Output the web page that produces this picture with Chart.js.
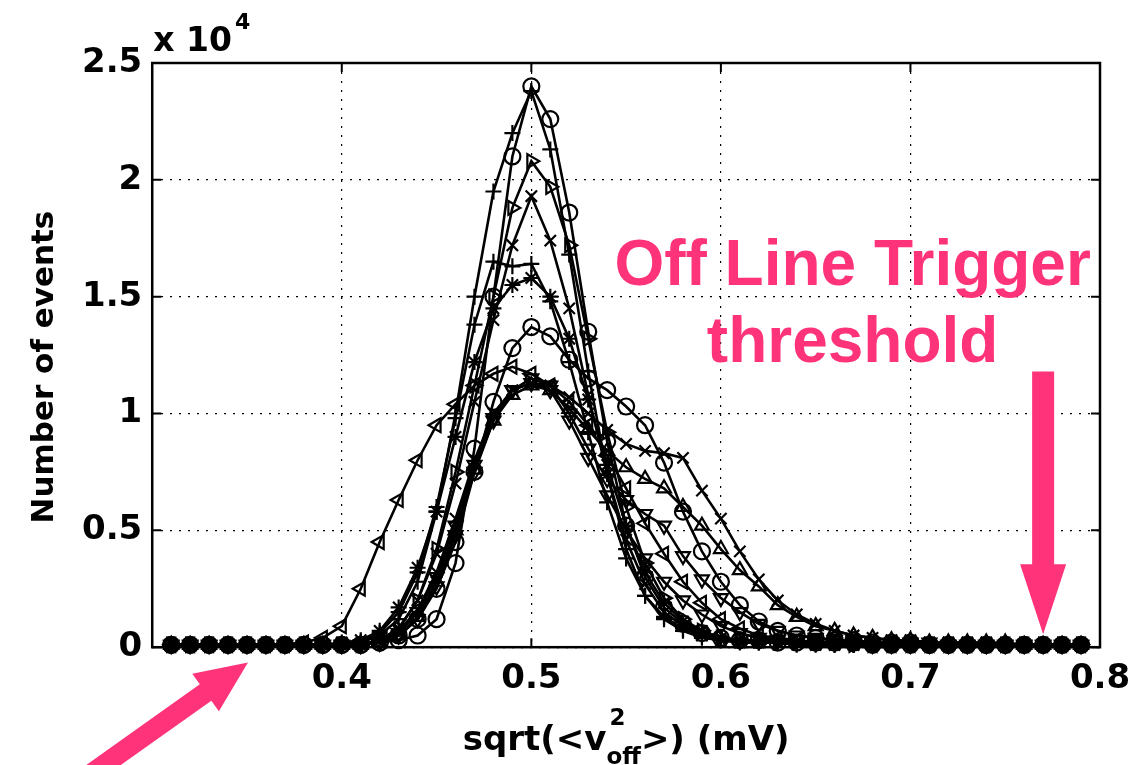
<!DOCTYPE html>
<html>
<head>
<meta charset="utf-8">
<script src="https://cdn.jsdelivr.net/npm/chart.js@4.4.1/dist/chart.umd.min.js"></script>
<style>
  html, body { margin: 0; padding: 0; background: #fff; }
  #wrap { width: 1143px; height: 765px; position: relative; }
</style>
</head>
<body>
<div id="wrap"><canvas id="events"></canvas></div>
<script>
// bin centres, sqrt(<v_off^2>) in mV
var xValues = [0.31, 0.32, 0.33, 0.34, 0.35, 0.36, 0.37, 0.38, 0.39, 0.40,
               0.41, 0.42, 0.43, 0.44, 0.45, 0.46, 0.47, 0.48, 0.49, 0.50,
               0.51, 0.52, 0.53, 0.54, 0.55, 0.56, 0.57, 0.58, 0.59, 0.60,
               0.61, 0.62, 0.63, 0.64, 0.65, 0.66, 0.67, 0.68, 0.69, 0.70,
               0.71, 0.72, 0.73, 0.74, 0.75, 0.76, 0.77, 0.78, 0.79];

// number of events, in units of 10^4
var circTall = [0.01, 0.01, 0.01, 0.01, 0.01, 0.01, 0.01, 0.01, 0.01, 0.01,
                0.01, 0.02, 0.03, 0.05, 0.12, 0.36, 0.85, 1.5, 2.1, 2.4,
                2.26, 1.86, 1.35, 0.88, 0.52, 0.3, 0.17, 0.1, 0.06, 0.04,
                0.03, 0.03, 0.02, 0.02, 0.02, 0.02, 0.02, 0.01, 0.01, 0.01,
                0.01, 0.01, 0.01, 0.01, 0.01, 0.01, 0.01, 0.01, 0.01];
var plusTall = [0.01, 0.01, 0.01, 0.01, 0.01, 0.01, 0.01, 0.01, 0.01, 0.01,
                0.02, 0.05, 0.12, 0.28, 0.58, 1.0, 1.5, 1.95, 2.2, 2.38,
                2.13, 1.68, 1.18, 0.74, 0.42, 0.22, 0.12, 0.07, 0.04, 0.03,
                0.02, 0.02, 0.02, 0.01, 0.01, 0.01, 0.01, 0.01, 0.01, 0.01,
                0.01, 0.01, 0.01, 0.01, 0.01, 0.01, 0.01, 0.01, 0.01];
var triRight = [0.01, 0.01, 0.01, 0.01, 0.01, 0.01, 0.01, 0.01, 0.01, 0.01,
                0.01, 0.03, 0.08, 0.2, 0.42, 0.75, 1.12, 1.5, 1.88, 2.08,
                1.97, 1.72, 1.32, 0.92, 0.6, 0.36, 0.21, 0.12, 0.07, 0.04,
                0.03, 0.03, 0.02, 0.02, 0.02, 0.02, 0.01, 0.01, 0.01, 0.01,
                0.01, 0.01, 0.01, 0.01, 0.01, 0.01, 0.01, 0.01, 0.01];
var crossTall = [0.01, 0.01, 0.01, 0.01, 0.01, 0.01, 0.01, 0.01, 0.01, 0.01,
                 0.01, 0.03, 0.08, 0.2, 0.4, 0.7, 1.05, 1.4, 1.72, 1.93,
                 1.74, 1.45, 1.08, 0.74, 0.46, 0.27, 0.15, 0.09, 0.05, 0.03,
                 0.02, 0.02, 0.02, 0.02, 0.01, 0.01, 0.01, 0.01, 0.01, 0.01,
                 0.01, 0.01, 0.01, 0.01, 0.01, 0.01, 0.01, 0.01, 0.01];
var plusMid = [0.01, 0.01, 0.01, 0.01, 0.01, 0.01, 0.01, 0.01, 0.01, 0.01,
               0.02, 0.06, 0.15, 0.32, 0.6, 0.98, 1.38, 1.65, 1.63, 1.64,
               1.48, 1.22, 0.92, 0.62, 0.38, 0.22, 0.13, 0.08, 0.05, 0.03,
               0.03, 0.02, 0.02, 0.02, 0.02, 0.01, 0.01, 0.01, 0.01, 0.01,
               0.01, 0.01, 0.01, 0.01, 0.01, 0.01, 0.01, 0.01, 0.01];
var starMid = [0.01, 0.01, 0.01, 0.01, 0.01, 0.01, 0.01, 0.01, 0.01, 0.02,
               0.03, 0.07, 0.17, 0.34, 0.58, 0.9, 1.22, 1.45, 1.55, 1.58,
               1.5, 1.32, 1.06, 0.78, 0.52, 0.32, 0.19, 0.11, 0.07, 0.04,
               0.03, 0.03, 0.02, 0.02, 0.02, 0.02, 0.01, 0.01, 0.01, 0.01,
               0.01, 0.01, 0.01, 0.01, 0.01, 0.01, 0.01, 0.01, 0.01];
var circWide = [0.01, 0.01, 0.01, 0.01, 0.01, 0.01, 0.01, 0.01, 0.01, 0.01,
                0.01, 0.02, 0.05, 0.12, 0.25, 0.45, 0.75, 1.05, 1.28, 1.37,
                1.33, 1.23, 1.15, 1.1, 1.03, 0.95, 0.79, 0.58, 0.41, 0.28,
                0.18, 0.11, 0.07, 0.05, 0.04, 0.03, 0.03, 0.02, 0.02, 0.02,
                0.01, 0.01, 0.01, 0.01, 0.01, 0.01, 0.01, 0.01, 0.01];
var triLeft = [0.01, 0.01, 0.01, 0.01, 0.01, 0.01, 0.01, 0.02, 0.04, 0.09,
               0.25, 0.45, 0.63, 0.8, 0.95, 1.04, 1.12, 1.17, 1.2, 1.17,
               1.12, 1.05, 0.95, 0.82, 0.68, 0.53, 0.4, 0.28, 0.19, 0.12,
               0.08, 0.05, 0.04, 0.03, 0.02, 0.02, 0.02, 0.01, 0.01, 0.01,
               0.01, 0.01, 0.01, 0.01, 0.01, 0.01, 0.01, 0.01, 0.01];
var triDown = [0.01, 0.01, 0.01, 0.01, 0.01, 0.01, 0.01, 0.01, 0.01, 0.01,
               0.01, 0.02, 0.06, 0.15, 0.3, 0.52, 0.78, 0.98, 1.1, 1.13,
               1.1, 0.97, 0.81, 0.65, 0.5, 0.38, 0.28, 0.2, 0.14, 0.09,
               0.06, 0.04, 0.03, 0.03, 0.02, 0.02, 0.02, 0.01, 0.01, 0.01,
               0.01, 0.01, 0.01, 0.01, 0.01, 0.01, 0.01, 0.01, 0.01];
var crossWide = [0.01, 0.01, 0.01, 0.01, 0.01, 0.01, 0.01, 0.01, 0.01, 0.01,
                 0.01, 0.03, 0.07, 0.16, 0.32, 0.55, 0.8, 1.0, 1.1, 1.13,
                 1.12, 1.07, 1.0, 0.93, 0.87, 0.84, 0.83, 0.81, 0.67, 0.55,
                 0.41, 0.29, 0.2, 0.14, 0.1, 0.07, 0.05, 0.04, 0.03, 0.03,
                 0.02, 0.02, 0.02, 0.02, 0.01, 0.01, 0.01, 0.01, 0.01];
var triUp = [0.01, 0.01, 0.01, 0.01, 0.01, 0.01, 0.01, 0.01, 0.01, 0.01,
             0.01, 0.02, 0.05, 0.13, 0.28, 0.5, 0.76, 0.97, 1.08, 1.12,
             1.1, 1.02, 0.93, 0.84, 0.77, 0.72, 0.68, 0.6, 0.52, 0.42,
             0.33, 0.26, 0.18, 0.13, 0.09, 0.07, 0.05, 0.04, 0.03, 0.03,
             0.02, 0.02, 0.02, 0.02, 0.02, 0.01, 0.01, 0.01, 0.01];
var triDown2 = [0.01, 0.01, 0.01, 0.01, 0.01, 0.01, 0.01, 0.01, 0.01, 0.01,
                0.01, 0.02, 0.05, 0.12, 0.26, 0.48, 0.75, 0.97, 1.1, 1.15,
                1.12, 1.0, 0.85, 0.72, 0.63, 0.57, 0.52, 0.39, 0.29, 0.21,
                0.15, 0.1, 0.07, 0.05, 0.04, 0.03, 0.03, 0.02, 0.02, 0.02,
                0.02, 0.01, 0.01, 0.01, 0.01, 0.01, 0.01, 0.01, 0.01];

var xTicks = [0.4, 0.5, 0.6, 0.7, 0.8];
var xTickLabels = ['0.4', '0.5', '0.6', '0.7', '0.8'];
var yTicks = [0, 0.5, 1, 1.5, 2, 2.5];
var yTickLabels = ['0', '0.5', '1', '1.5', '2', '2.5'];

// marker per series: [data, pointStyle, rotation]
var seriesList = [
    [triLeft, 'triangle', -90],
    [triDown2, 'triangle', 180],
    [triUp, 'triangle', 0],
    [crossWide, 'crossRot', 0],
    [triDown, 'triangle', 180],
    [circWide, 'circle', 0],
    [starMid, 'star', 0],
    [plusMid, 'cross', 0],
    [crossTall, 'crossRot', 0],
    [triRight, 'triangle', 90],
    [plusTall, 'cross', 0],
    [circTall, 'circle', 0]
];

var pink = '#ff3379';
var tickFont = '"DejaVu Sans", sans-serif';

var datasets = seriesList.map(function (s) {
    return {
        data: s[0].map(function (v, i) { return { x: xValues[i], y: v }; }),
        borderColor: '#000',
        borderWidth: 2.6,
        pointStyle: s[1],
        rotation: s[2],
        pointRadius: 8,
        pointBorderWidth: 2.2,
        pointBorderColor: '#000',
        pointBackgroundColor: 'rgba(0,0,0,0)',
        tension: 0,
        clip: 10
    };
});

var overlay = {
    id: 'overlay',
    afterDatasetsDraw: function (chart) {
        var ctx = chart.ctx, a = chart.chartArea;
        var xs = chart.scales.x, ys = chart.scales.y;
        ctx.save();
        ctx.strokeStyle = '#000';
        ctx.lineWidth = 2.5;
        ctx.strokeRect(a.left, a.top, a.right - a.left, a.bottom - a.top);
        ctx.lineWidth = 2;
        ctx.beginPath();
        xTicks.forEach(function (v) {
            var p = xs.getPixelForValue(v);
            ctx.moveTo(p, a.bottom); ctx.lineTo(p, a.bottom - 9);
            ctx.moveTo(p, a.top); ctx.lineTo(p, a.top + 9);
        });
        yTicks.forEach(function (v) {
            var p = ys.getPixelForValue(v);
            ctx.moveTo(a.left, p); ctx.lineTo(a.left + 9, p);
            ctx.moveTo(a.right, p); ctx.lineTo(a.right - 9, p);
        });
        ctx.stroke();
        ctx.restore();
    },
    afterDraw: function (chart) {
        var ctx = chart.ctx, a = chart.chartArea;
        var xs = chart.scales.x, ys = chart.scales.y;
        ctx.save();
        ctx.fillStyle = '#000';
        ctx.textAlign = 'left';
        ctx.textBaseline = 'alphabetic';

        // exponent label
        ctx.font = 'bold 33px ' + tickFont;
        ctx.fillText('x 10', a.left + 1, 51);
        var w = ctx.measureText('x 10').width;
        ctx.font = 'bold 22px ' + tickFont;
        ctx.fillText('4', a.left + 4 + w, 29);

        // x axis title with superscript and subscript
        var px = (a.left + a.right) / 2;
        ctx.font = 'bold 34px ' + tickFont;
        var w1 = ctx.measureText('sqrt(<v').width;
        var w3 = ctx.measureText('>) (mV)').width;
        ctx.font = 'bold 23px ' + tickFont;
        var w2 = ctx.measureText('off').width;
        var x0 = px - (w1 + w2 + w3) / 2;
        var base = 750;
        ctx.font = 'bold 34px ' + tickFont;
        ctx.fillText('sqrt(<v', x0, base);
        ctx.font = 'bold 23px ' + tickFont;
        ctx.fillText('2', x0 + w1 + 3, base - 25);
        ctx.fillText('off', x0 + w1, base + 14);
        ctx.font = 'bold 34px ' + tickFont;
        ctx.fillText('>) (mV)', x0 + w1 + w2, base);

        // y axis title
        ctx.save();
        ctx.translate(45, (a.top + a.bottom) / 2 + 12);
        ctx.rotate(-Math.PI / 2);
        ctx.textAlign = 'center';
        ctx.textBaseline = 'middle';
        ctx.font = 'bold 31px ' + tickFont;
        ctx.fillText('Number of events', 0, 0);
        ctx.restore();

        // annotation text
        ctx.fillStyle = pink;
        ctx.textAlign = 'center';
        ctx.font = 'bold 64px "Liberation Sans", Arial, sans-serif';
        var tx = xs.getPixelForValue(0.6695);
        ctx.fillText('Off Line Trigger', tx, ys.getPixelForValue(1.55));
        ctx.fillText('threshold', tx, ys.getPixelForValue(1.22));

        // vertical arrow at the threshold
        var ax = xs.getPixelForValue(0.77);
        var aTop = ys.getPixelForValue(1.18);
        var aTip = ys.getPixelForValue(0.055);
        ctx.beginPath();
        ctx.moveTo(ax - 11, aTop);
        ctx.lineTo(ax + 11, aTop);
        ctx.lineTo(ax + 11, aTip - 70);
        ctx.lineTo(ax + 23, aTip - 70);
        ctx.lineTo(ax, aTip);
        ctx.lineTo(ax - 23, aTip - 70);
        ctx.lineTo(ax - 11, aTip - 70);
        ctx.closePath();
        ctx.fill();

        // diagonal arrow at lower left
        var tipX = xs.getPixelForValue(0.3505), tipY = ys.getPixelForValue(-0.065);
        var ux = 0.815, uy = -0.579, nx = 0.579, ny = 0.815;
        var hl = 52, hw = 23, sw = 10, tail = 200;
        var bx = tipX - ux * hl, by = tipY - uy * hl;
        var tx0 = tipX - ux * tail, ty0 = tipY - uy * tail;
        ctx.beginPath();
        ctx.moveTo(tx0 + nx * sw, ty0 + ny * sw);
        ctx.lineTo(bx + nx * sw, by + ny * sw);
        ctx.lineTo(bx + nx * hw, by + ny * hw);
        ctx.lineTo(tipX, tipY);
        ctx.lineTo(bx - nx * hw, by - ny * hw);
        ctx.lineTo(bx - nx * sw, by - ny * sw);
        ctx.lineTo(tx0 - nx * sw, ty0 - ny * sw);
        ctx.closePath();
        ctx.fill();
        ctx.restore();
    }
};

var ctx = document.getElementById('events').getContext('2d');
var eventsChart = new Chart(ctx, {
    type: 'line',
    data: { datasets: datasets },
    options: {
        responsive: true,
        maintainAspectRatio: false,
        animation: false,
        layout: { padding: { left: 72, right: 43, top: 63, bottom: 53 } },
        plugins: { legend: { display: false }, tooltip: { enabled: false } },
        scales: {
            x: {
                type: 'linear',
                min: 0.3,
                max: 0.8,
                afterBuildTicks: function (s) {
                    s.ticks = xTicks.map(function (v) { return { value: v }; });
                },
                ticks: {
                    color: '#000',
                    padding: 12,
                    maxRotation: 0,
                    font: { family: tickFont, size: 34, weight: 'bold' },
                    callback: function (v, i) { return xTickLabels[i]; }
                },
                grid: { color: '#000', lineWidth: 1.2, drawTicks: false },
                border: { display: false, dash: [2, 7] }
            },
            y: {
                min: 0,
                max: 2.5,
                afterBuildTicks: function (s) {
                    s.ticks = yTicks.map(function (v) { return { value: v }; });
                },
                ticks: {
                    color: '#000',
                    padding: 10,
                    font: { family: tickFont, size: 34, weight: 'bold' },
                    callback: function (v, i) { return yTickLabels[i]; }
                },
                grid: { color: '#000', lineWidth: 1.2, drawTicks: false },
                border: { display: false, dash: [2, 7] }
            }
        }
    },
    plugins: [overlay]
});
</script>
</body>
</html>
